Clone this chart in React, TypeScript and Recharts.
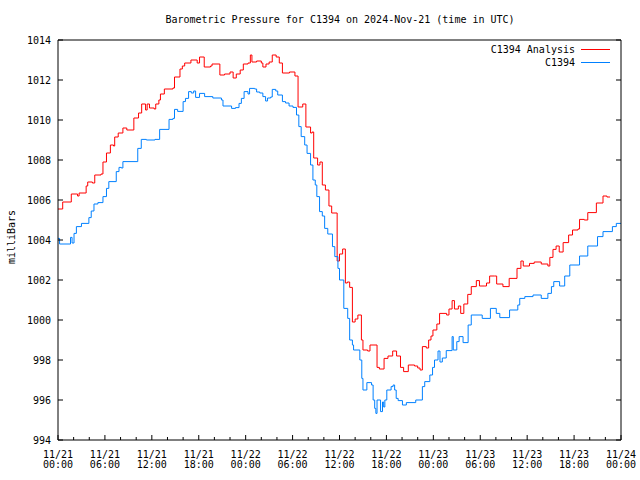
import React from 'react';
import { LineChart, Line, XAxis, YAxis } from 'recharts';

// hours since 11/21 00:00 UTC, pressure in mb (step data)
const analysisHours = [
  0, 0.6, 1.7, 2.5, 2.7, 3.6, 3.8, 4.4, 4.7, 5.5, 5.75, 6.2, 6.7, 7.1, 7.25, 7.7, 8.3, 8.8, 9.7, 10.3,
  10.7, 11.2, 11.4, 11.7, 12.3, 12.5, 12.9, 13.1, 13.6, 14.7, 14.9, 15.6, 15.9, 16.2, 17.0, 17.8, 18.1, 18.7, 19.5, 19.7,
  20.7, 21.3, 22.0, 22.4, 22.8, 23.3, 23.7, 24.3, 24.6, 24.8, 25.4, 26.0, 26.2, 26.6, 27.0, 27.4, 27.9, 28.3, 28.7, 29.6,
  30.3, 30.7, 31.3, 31.7, 32.3, 32.5, 32.7, 33.2, 33.5, 33.8, 34.2, 34.65, 35.0, 35.7, 36.0, 36.4, 36.75, 37.0, 37.3, 37.65,
  38.0, 38.35, 38.8, 39.0, 39.6, 39.9, 40.8, 41.1, 41.7, 42.2, 42.8, 43.3, 43.8, 44.2, 44.8, 45.6, 46.0, 46.3, 46.6, 47.1,
  47.4, 47.7, 47.95, 48.45, 48.8, 49.7, 50.0, 50.4, 50.7, 51.2, 51.5, 51.9, 52.4, 52.85, 53.5, 53.9, 54.5, 54.8, 55.2, 55.8,
  56.1, 56.9, 57.7, 58.7, 59.2, 59.5, 60.3, 60.9, 61.8, 62.65, 62.9, 63.3, 63.7, 64.1, 64.6, 65.3, 65.8, 66.5, 66.7, 67.3,
  67.75, 68.85, 69.7, 70.2, 70.6,
];
const analysisMb = [
  1005.55, 1005.9, 1006.3, 1006.2, 1006.35, 1006.7, 1006.9, 1006.85, 1007.25, 1007.3, 1007.9, 1008.35, 1008.75, 1008.7, 1009.15, 1009.35, 1009.6, 1009.5, 1010.1, 1010.35,
  1010.8, 1010.5, 1010.8, 1010.6, 1010.55, 1010.8, 1011.0, 1011.3, 1011.55, 1011.6, 1012.15, 1012.55, 1012.7, 1012.85, 1013.0, 1012.85, 1013.15, 1012.65, 1012.7, 1012.8,
  1012.25, 1012.3, 1012.4, 1012.1, 1012.3, 1012.5, 1012.8, 1012.85, 1013.25, 1012.9, 1012.95, 1012.85, 1012.65, 1012.8, 1012.9, 1013.25, 1013.15, 1012.85, 1012.35, 1012.4,
  1012.2, 1010.65, 1010.8, 1009.65, 1009.35, 1009.4, 1008.1, 1007.75, 1007.9, 1006.75, 1006.5, 1005.7, 1005.35, 1002.95, 1003.3, 1003.55, 1001.85, 1001.9, 1001.63, 999.9,
  1000.05, 1000.25, 999.0, 998.5, 998.45, 998.75, 997.63, 997.55, 998.08, 998.2, 998.45, 998.2, 997.63, 997.42, 997.75, 997.7, 997.6, 997.5, 998.67, 998.6,
  999.0, 999.2, 999.5, 999.8, 1000.33, 1000.25, 1000.55, 1000.97, 1000.55, 1000.7, 1000.33, 1000.8, 1001.28, 1001.67, 1001.97, 1001.7, 1001.7, 1001.85, 1002.2, 1002.2,
  1001.8, 1001.67, 1002.08, 1002.58, 1002.95, 1002.7, 1002.83, 1002.9, 1002.8, 1002.7, 1003.13, 1003.53, 1003.7, 1003.4, 1003.87, 1004.25, 1004.5, 1004.55, 1005.03, 1005.0,
  1005.37, 1005.85, 1006.2, 1006.15, 1006.15,
];

const stationHours = [
  0, 0.2, 1.6, 1.8, 2.05, 2.35, 3.0, 3.95, 4.25, 4.6, 5.1, 5.75, 6.2, 6.5, 7.45, 7.8, 8.1, 8.3, 10.2, 10.65,
  11.3, 12.4, 13.0, 14.2, 14.7, 14.9, 15.3, 16.0, 16.3, 16.7, 17.05, 17.35, 17.6, 18.1, 18.75, 19.8, 20.9, 21.1, 22.2, 22.7,
  23.15, 23.45, 23.8, 24.3, 24.5, 25.15, 25.4, 25.8, 26.2, 26.55, 26.8, 27.2, 27.4, 27.85, 28.1, 28.7, 29.1, 29.55, 30.05, 30.5,
  30.8, 31.1, 31.55, 31.85, 32.3, 32.6, 32.9, 33.1, 33.45, 33.8, 34.1, 34.5, 35.1, 35.4, 35.8, 36.0, 36.55, 37.05, 37.3, 37.65,
  37.8, 38.6, 38.85, 39.0, 39.5, 40.1, 40.3, 40.5, 40.65, 40.8, 41.25, 41.5, 41.65, 41.8, 42.05, 42.6, 42.85, 43.05, 43.25, 43.5,
  44.05, 44.55, 45.75, 46.6, 46.9, 47.55, 47.9, 48.15, 48.6, 48.85, 49.15, 49.65, 50.4, 50.55, 51.0, 51.3, 51.8, 52.45, 52.85, 54.25,
  55.3, 56.05, 56.5, 57.75, 58.8, 59.05, 59.7, 60.75, 61.8, 62.65, 63.1, 63.4, 64.15, 64.8, 65.45, 66.7, 67.75, 69.0, 69.7, 70.9,
  71.4, 72,
];
const stationMb = [
  1004.08, 1003.8, 1004.13, 1003.85, 1004.33, 1004.67, 1004.83, 1005.12, 1005.45, 1005.8, 1005.87, 1006.17, 1006.58, 1006.92, 1007.42, 1007.63, 1007.6, 1007.92, 1008.58, 1009.03,
  1009.0, 1009.03, 1009.53, 1010.03, 1010.08, 1010.53, 1010.43, 1010.92, 1011.08, 1011.42, 1011.35, 1011.45, 1011.13, 1011.33, 1011.17, 1011.1, 1011.0, 1010.7, 1010.58, 1010.62,
  1010.83, 1011.08, 1011.42, 1011.3, 1011.58, 1011.55, 1011.4, 1011.35, 1011.17, 1010.95, 1011.1, 1011.15, 1011.53, 1011.45, 1011.25, 1010.92, 1010.85, 1010.7, 1010.63, 1010.25,
  1009.67, 1009.17, 1008.75, 1008.33, 1007.75, 1007.0, 1006.75, 1006.17, 1005.42, 1005.2, 1004.58, 1004.3, 1003.67, 1003.17, 1002.58, 1002.0, 1000.58, 1000.08, 999.0, 998.75,
  998.5, 998.0, 997.08, 996.5, 996.87, 996.75, 996.0, 995.58, 995.33, 996.0, 995.42, 995.9, 995.65, 996.0, 996.5, 996.67, 996.75, 996.5, 996.08, 995.97,
  995.75, 995.87, 996.0, 996.67, 996.92, 997.25, 997.63, 998.0, 998.45, 997.9, 998.1, 998.47, 999.17, 998.5, 998.92, 999.17, 998.87, 999.75, 1000.25, 1000.08,
  1000.58, 1000.33, 1000.12, 1000.5, 1000.75, 1001.08, 1001.17, 1001.25, 1001.08, 1001.33, 1001.67, 1001.92, 1001.7, 1002.2, 1002.75, 1003.2, 1003.7, 1004.17, 1004.42, 1004.67,
  1004.83, 1004.85,
];

const majorTicks = [0, 6, 12, 18, 24, 30, 36, 42, 48, 54, 60, 66, 72];
const minorTicks = [2, 4, 8, 10, 14, 16, 20, 22, 26, 28, 32, 34, 38, 40, 44, 46, 50, 52, 56, 58, 62, 64, 68, 70];
const dateLabels = ['11/21', '11/21', '11/21', '11/21', '11/22', '11/22', '11/22', '11/22', '11/23', '11/23', '11/23', '11/23', '11/24'];
const timeLabels = ['00:00', '06:00', '12:00', '18:00', '00:00', '06:00', '12:00', '18:00', '00:00', '06:00', '12:00', '18:00', '00:00'];
const pressureTicks = [994, 996, 998, 1000, 1002, 1004, 1006, 1008, 1010, 1012, 1014];

const analysisData = analysisHours.map((h, i) => ({ h, mb: analysisMb[i] }));
const stationData = stationHours.map((h, i) => ({ h, mb: stationMb[i] }));
const allTicks = [...majorTicks, ...minorTicks].sort((a, b) => a - b);

const FONT = '"DejaVu Sans Mono", monospace';
const RED = '#ff0000';
const BLUE = '#0080ff';

const BottomTick = (props: any) => {
  const { x, y, payload } = props;
  const i = majorTicks.indexOf(payload.value);
  const len = i >= 0 ? 5 : 3;
  return (
    <g>
      <line x1={x} x2={x} y1={y} y2={y - len} stroke="#000" />
      {i >= 0 && (
        <text x={x} y={y + 18} textAnchor="middle" fontFamily={FONT} fontSize={10} fill="#000">
          <tspan x={x}>{dateLabels[i]}</tspan>
          <tspan x={x} dy={10}>{timeLabels[i]}</tspan>
        </text>
      )}
    </g>
  );
};

const TopTick = (props: any) => {
  const { x, y, payload } = props;
  const len = majorTicks.includes(payload.value) ? 5 : 3;
  return <line x1={x} x2={x} y1={y} y2={y + len} stroke="#000" />;
};

const LeftTick = (props: any) => {
  const { x, y, payload } = props;
  return (
    <g>
      <line x1={x} x2={x + 5} y1={y} y2={y} stroke="#000" />
      <text x={x - 7} y={y + 4} textAnchor="end" fontFamily={FONT} fontSize={10} fill="#000">
        {payload.value}
      </text>
    </g>
  );
};

const RightTick = (props: any) => {
  const { x, y } = props;
  return <line x1={x} x2={x - 5} y1={y} y2={y} stroke="#000" />;
};

export default function App() {
  return (
    <div style={{ position: 'absolute', left: 0, top: 0, width: 640, height: 480, background: '#fff' }}>
      <LineChart width={640} height={480} margin={{ top: 0, right: 0, bottom: 0, left: 0 }}>
        <XAxis
          dataKey="h"
          type="number"
          domain={[0, 72]}
          ticks={allTicks}
          interval={0}
          height={40}
          tickSize={0}
          tickMargin={0}
          axisLine={{ stroke: '#000' }}
          tickLine={false}
          tick={(p: any) => <BottomTick {...p} />}
          allowDataOverflow
        />
        <XAxis
          xAxisId="top"
          orientation="top"
          type="number"
          domain={[0, 72]}
          ticks={allTicks}
          interval={0}
          height={40}
          tickSize={0}
          tickMargin={0}
          axisLine={{ stroke: '#000' }}
          tickLine={false}
          tick={(p: any) => <TopTick {...p} />}
          allowDataOverflow
        />
        <YAxis
          type="number"
          domain={[994, 1014]}
          ticks={pressureTicks}
          interval={0}
          width={58}
          tickSize={0}
          tickMargin={0}
          axisLine={{ stroke: '#000' }}
          tickLine={false}
          tick={(p: any) => <LeftTick {...p} />}
          allowDataOverflow
        />
        <YAxis
          yAxisId="right"
          orientation="right"
          type="number"
          domain={[994, 1014]}
          ticks={pressureTicks}
          interval={0}
          width={19}
          tickSize={0}
          tickMargin={0}
          axisLine={{ stroke: '#000' }}
          tickLine={false}
          tick={(p: any) => <RightTick {...p} />}
          allowDataOverflow
        />
        <Line
          data={analysisData}
          dataKey="mb"
          type="stepAfter"
          stroke={RED}
          strokeWidth={1}
          dot={false}
          isAnimationActive={false}
        />
        <Line
          data={stationData}
          dataKey="mb"
          type="stepAfter"
          stroke={BLUE}
          strokeWidth={1}
          dot={false}
          isAnimationActive={false}
        />
      </LineChart>
      <svg width={640} height={480} style={{ position: 'absolute', left: 0, top: 0, pointerEvents: 'none' }}>
        <text x={340} y={23} textAnchor="middle" fontFamily={FONT} fontSize={10} fill="#000">
          Barometric Pressure for C1394 on 2024-Nov-21 (time in UTC)
        </text>
        <text x={15} y={237} textAnchor="middle" fontFamily={FONT} fontSize={10} fill="#000" transform="rotate(-90 15 237)">
          milliBars
        </text>
        <text x={575} y={53} textAnchor="end" fontFamily={FONT} fontSize={10} fill="#000">C1394 Analysis</text>
        <line x1={581} x2={610} y1={49.5} y2={49.5} stroke={RED} />
        <text x={575} y={66} textAnchor="end" fontFamily={FONT} fontSize={10} fill="#000">C1394</text>
        <line x1={581} x2={610} y1={62.5} y2={62.5} stroke={BLUE} />
      </svg>
    </div>
  );
}
